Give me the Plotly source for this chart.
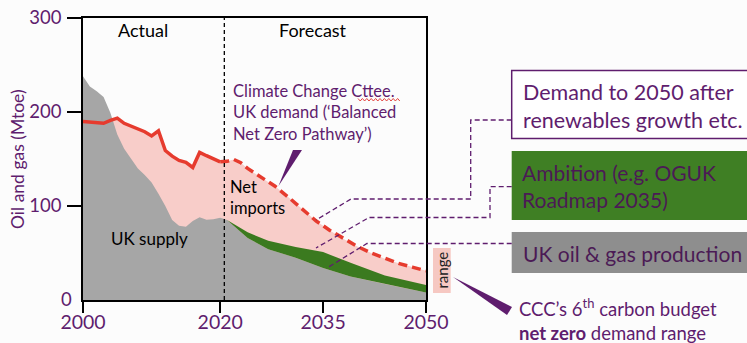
import plotly.graph_objects as go

# ---------------- data ----------------
actual_years = list(range(2000, 2021))
uk_supply_actual = [238, 227, 222, 216, 199, 176, 161, 151, 140, 133, 125,
                    113, 100, 85, 79, 78, 84, 88, 85.5, 86, 87.5]
demand_actual = [190, 189.5, 188.5, 188, 191, 193.5, 188, 185, 182.5, 179, 174.5,
                 180, 159, 153, 148.5, 146.5, 141, 157, 153.5, 150.5, 147]

forecast_years = [2020, 2021, 2022, 2023, 2024, 2026, 2028, 2030, 2032, 2034,
                  2036, 2038, 2040, 2042, 2044, 2046, 2048, 2050]
demand_forecast = [147, 147.5, 149.5, 146, 140, 130, 121, 109, 96, 84,
                   74, 65, 57, 50, 44, 39, 35, 31]

prod_years = [2020, 2021, 2024, 2027, 2031, 2035, 2039, 2044, 2050]
uk_production = [87.5, 85, 66, 54, 45, 34, 25, 17, 8]
ambition = [87.5, 85, 72, 63, 56.5, 51, 39.5, 26, 16]

range_low, range_high = 7, 55

x_ticks = [2000, 2020, 2035, 2050]
y_ticks = [100, 200, 300]
y_zero_label = "0"

# ---------------- styling ----------------
PURPLE = "#5f1d6e"
GRAY = "#a6a6a6"
PINK = "#f8cdc9"
GREEN = "#3b7a1f"
RED = "#e63b2e"
FONT = "Lato"

W, H = 747, 343
ML, MR, MT, MB = 83, 5, 18, 43
PW, PH = W - ML - MR, H - MT - MB


def PX(x):
    return (x - ML) / PW


def PY(y):
    return (H - MB - y) / PH


fig = go.Figure()

# pink net imports (area under total demand)
fig.add_trace(go.Scatter(
    x=actual_years + forecast_years[1:],
    y=demand_actual + demand_forecast[1:],
    fill="tozeroy", fillcolor=PINK, mode="lines", line=dict(width=0),
    hoverinfo="skip", showlegend=False))
# gray UK supply / production
fig.add_trace(go.Scatter(
    x=actual_years + prod_years[1:],
    y=uk_supply_actual + uk_production[1:],
    fill="tozeroy", fillcolor=GRAY, mode="lines", line=dict(width=0),
    hoverinfo="skip", showlegend=False))
# green ambition band
fig.add_trace(go.Scatter(
    x=prod_years, y=uk_production, mode="lines", line=dict(width=0),
    hoverinfo="skip", showlegend=False))
fig.add_trace(go.Scatter(
    x=prod_years, y=ambition, fill="tonexty", fillcolor=GREEN,
    mode="lines", line=dict(width=0), hoverinfo="skip", showlegend=False))
# demand lines (on the overlaid year axis that carries the tick marks)
fig.add_trace(go.Scatter(
    x=actual_years, y=demand_actual, mode="lines", xaxis="x3", yaxis="y",
    line=dict(color=RED, width=3.5), hoverinfo="skip", showlegend=False))
fig.add_trace(go.Scatter(
    x=forecast_years, y=demand_forecast, mode="lines", xaxis="x3", yaxis="y",
    line=dict(color=RED, width=3.5, dash="9px,5px"), hoverinfo="skip",
    showlegend=False))
# net zero demand range (own small axis right of the frame)
fig.add_trace(go.Bar(
    x=[0.5], y=[range_high - range_low], base=[range_low], width=[1],
    marker=dict(color="#f6c8c2", line=dict(width=0)),
    xaxis="x2", yaxis="y", hoverinfo="skip", showlegend=False))

shapes = []
annotations = []

# actual / forecast divider
shapes.append(dict(type="line", xref="x", yref="paper", x0=2020.6, x1=2020.6,
                   y0=0, y1=1, line=dict(color="black", width=1.3, dash="4px,3px")))


def poly(points):
    return "M " + " L ".join(f"{PX(a):.5f},{PY(b):.5f}" for a, b in points)


# right-hand boxes
box_x0 = PX(511.7)
box_x1 = PX(747)
shapes.append(dict(type="rect", xref="paper", yref="paper", x0=box_x0, x1=box_x1,
                   y0=PY(139), y1=PY(70), fillcolor="white", line=dict(width=0)))
shapes.append(dict(type="path", xref="paper", yref="paper",
                   path=poly([(747, 70.5), (511.7, 70.5), (511.7, 138.5), (747, 138.5)]),
                   line=dict(color=PURPLE, width=1.5)))
shapes.append(dict(type="rect", xref="paper", yref="paper", x0=box_x0, x1=box_x1,
                   y0=PY(220), y1=PY(151), fillcolor="#3f7f24", line=dict(width=0)))
shapes.append(dict(type="rect", xref="paper", yref="paper", x0=box_x0, x1=box_x1,
                   y0=PY(273), y1=PY(232), fillcolor="#8e8e8e", line=dict(width=0)))

# dashed connectors
conn = dict(color=PURPLE, width=1.3, dash="5px,3px")
shapes.append(dict(type="path", xref="paper", yref="paper",
                   path=poly([(511.7, 120), (470.7, 120), (470.7, 199),
                              (351, 199), (316, 220)]), line=conn))
shapes.append(dict(type="path", xref="paper", yref="paper",
                   path=poly([(511.7, 186.7), (490, 186.7), (490, 217.5),
                              (369, 217.5), (316, 248)]), line=conn))
shapes.append(dict(type="path", xref="paper", yref="paper",
                   path=poly([(511.7, 243.5), (367, 243.5), (327, 268)]), line=conn))

# pointer wedges
shapes.append(dict(type="path", xref="paper", yref="paper",
                   path=poly([(293, 150), (302, 150), (278.5, 186)]) + " Z",
                   fillcolor=PURPLE, line=dict(width=0)))
shapes.append(dict(type="path", xref="paper", yref="paper",
                   path=poly([(453, 277), (512, 307), (507, 315)]) + " Z",
                   fillcolor=PURPLE, line=dict(width=0)))

# red spell-check squiggle under "Cttee."
sq = []
xs = 358
i = 0
while xs <= 400:
    sq.append((xs, 98.5 if i % 2 == 0 else 101))
    xs += 2.2
    i += 1
shapes.append(dict(type="path", xref="paper", yref="paper", path=poly(sq),
                   line=dict(color="#e0302a", width=0.9)))


def ann(text, x, y, size, color, xanchor="left", yanchor="middle", angle=0, align="left"):
    annotations.append(dict(text=text, xref="paper", yref="paper", x=PX(x), y=PY(y),
                            xanchor=xanchor, yanchor=yanchor, showarrow=False,
                            textangle=angle, align=align,
                            font=dict(family=FONT, size=size, color=color)))


ann("Actual", 142.5, 30, 18, "black", xanchor="center")
ann("Forecast", 313, 30, 18, "black", xanchor="center")
ann("Climate Change Cttee.<br>UK demand (‘Balanced<br>Net Zero Pathway’)",
    231, 112.5, 16.5, PURPLE)
ann("Net<br>imports", 228, 197.5, 16.5, "black")
ann("UK supply", 149, 238, 17, "black", xanchor="center")
ann("Demand to 2050 after<br>renewables growth etc.", 521, 105.5, 21.5, PURPLE)
ann("Ambition (e.g. OGUK<br>Roadmap 2035)", 520, 186, 21, "#4b1a55")
ann("UK oil &amp; gas production", 521, 253, 21, "#4b1a55")
ann("CCC’s 6<sup>th</sup> carbon budget<br><b>net zero</b> demand range",
    517, 319, 18.5, PURPLE)
ann("range", 441.5, 270, 15, "#222222", xanchor="center", angle=-90)
ann("Oil and gas (Mtoe)", 17, 159, 17.5, PURPLE, xanchor="center", angle=-90)
ann(y_zero_label, 74, 298.5, 18.5, PURPLE, xanchor="right")

fig.update_layout(
    width=W, height=H, autosize=False,
    margin=dict(l=ML, r=MR, t=MT, b=MB, pad=0),
    paper_bgcolor="#fcfcfc", plot_bgcolor="rgba(0,0,0,0)",
    font=dict(family=FONT, color=PURPLE),
    showlegend=False,
    bargap=0,
    # labels of the year axis (tick marks drawn by the overlay axis below)
    xaxis=dict(domain=[0, PX(426)], range=[2000, 2050], tickvals=x_ticks,
               ticks="", ticklabelstandoff=4, automargin=False,
               showline=True, linecolor="black", linewidth=1.5, mirror=True,
               showgrid=False, zeroline=False,
               tickfont=dict(family=FONT, size=19.5, color=PURPLE), anchor="y"),
    xaxis3=dict(domain=[0, PX(426)], range=[2000, 2050], overlaying="x",
                anchor="y", side="bottom", tickvals=x_ticks, ticks="outside",
                ticklen=12, tickwidth=1.5, tickcolor="black", showticklabels=False,
                showline=False, showgrid=False, zeroline=False, automargin=False),
    xaxis2=dict(domain=[PX(432.7), PX(450.7)], range=[0, 1], visible=False,
                anchor="y", showgrid=False, zeroline=False, automargin=False),
    yaxis=dict(range=[0, 300], tickvals=y_ticks, ticks="outside", ticklen=14,
               tickwidth=1.5, tickcolor="black", showline=True, linecolor="black",
               ticklabelstandoff=2, automargin=False,
               linewidth=1.5, mirror=True, showgrid=False, zeroline=False,
               tickfont=dict(family=FONT, size=18.5, color=PURPLE), anchor="x"),
    shapes=shapes,
    annotations=annotations,
)

fig.write_html("out.html")
